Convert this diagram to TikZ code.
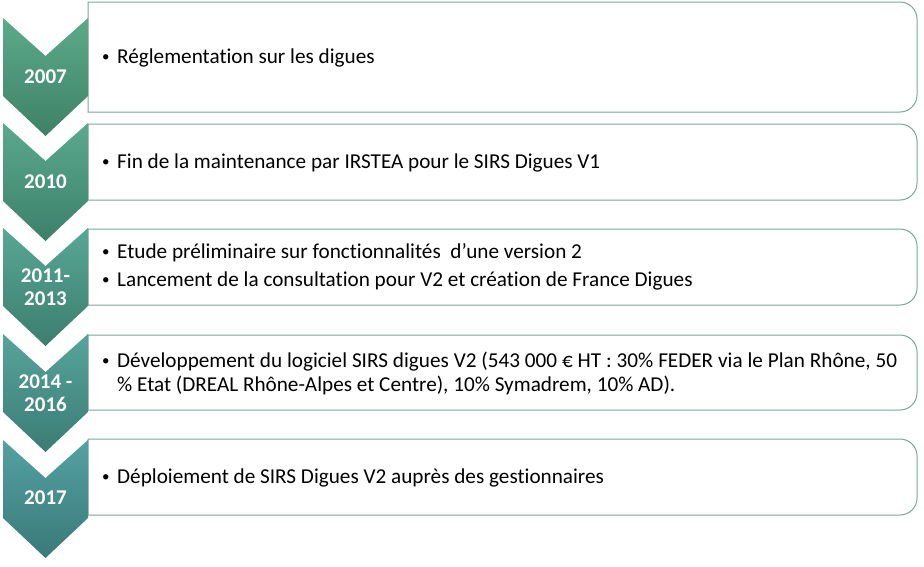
\documentclass[tikz,border=0pt]{standalone}
\usepackage{fontspec}
\setmainfont{Carlito}[Ligatures=NoCommon]
\usepackage{tikz}
\definecolor{bord}{HTML}{7DA59B}
\definecolor{hautA}{HTML}{5CAA8B}\definecolor{basA}{HTML}{3E8166}
\definecolor{hautB}{HTML}{5AA98F}\definecolor{basB}{HTML}{3D806A}
\definecolor{hautC}{HTML}{58A794}\definecolor{basC}{HTML}{3C7E6E}
\definecolor{hautD}{HTML}{56A49B}\definecolor{basD}{HTML}{3B7C74}
\definecolor{hautE}{HTML}{54A1A2}\definecolor{basE}{HTML}{3A7979}
\newcommand\puce{\makebox[15pt][l]{\raisebox{1.5pt}{\fontsize{15}{15}\selectfont\textbullet}}}

\begin{document}
\begin{tikzpicture}[x=1pt,y=-1pt,
  annee/.style={text=white,font=\fontsize{21}{23}\selectfont\bfseries,align=center},
  ligne/.style={anchor=base west,inner sep=0pt,font=\fontsize{21.2}{24}\selectfont}]
  \useasboundingbox (0,0) rectangle (924,566);
  % cadres, coins arrondis a droite
  \draw[bord,line width=1pt] (88,2) -- (900,2) arc[start angle=-90,end angle=0,radius=17] -- (917,95) arc[start angle=0,end angle=90,radius=17] -- (88,112) -- cycle;
  \draw[bord,line width=1pt] (88,124) -- (900,124) arc[start angle=-90,end angle=0,radius=17] -- (917,183) arc[start angle=0,end angle=90,radius=17] -- (88,200) -- cycle;
  \draw[bord,line width=1pt] (88,229) -- (900,229) arc[start angle=-90,end angle=0,radius=17] -- (917,288) arc[start angle=0,end angle=90,radius=17] -- (88,305) -- cycle;
  \draw[bord,line width=1pt] (88,335) -- (900,335) arc[start angle=-90,end angle=0,radius=17] -- (917,393) arc[start angle=0,end angle=90,radius=17] -- (88,410) -- cycle;
  \draw[bord,line width=1pt] (88,439) -- (900,439) arc[start angle=-90,end angle=0,radius=17] -- (917,498) arc[start angle=0,end angle=90,radius=17] -- (88,515) -- cycle;
  % chevrons
  \shade[top color=hautA,bottom color=basA] (3,18) -- (45.5,56) -- (88,18) -- (88,96) -- (45.5,136) -- (3,96) -- cycle;
  \shade[top color=hautB,bottom color=basB] (3,123) -- (45.5,161) -- (88,123) -- (88,201) -- (45.5,241) -- (3,201) -- cycle;
  \shade[top color=hautC,bottom color=basC] (3,228) -- (45.5,266) -- (88,228) -- (88,306) -- (45.5,346) -- (3,306) -- cycle;
  \shade[top color=hautD,bottom color=basD] (3,334) -- (45.5,372) -- (88,334) -- (88,412) -- (45.5,452) -- (3,412) -- cycle;
  \shade[top color=hautE,bottom color=basE] (3,440) -- (45.5,478) -- (88,440) -- (88,518) -- (45.5,558) -- (3,518) -- cycle;
  \node[annee] (a2007) at (45.5,77) {2007};
  \node[annee] (a2010) at (45.5,182) {2010};
  \node[annee] (a2011) at (45.5,287) {2011-\\2013};
  \node[annee] (a2014) at (45.5,393) {2014 -\\2016};
  \node[annee] (a2017) at (45.5,498) {2017};
  % textes
  \node[ligne] (t2007) at (102,63) {\puce Réglementation sur les digues};
  \node[ligne] (t2010) at (102,168) {\puce Fin de la maintenance par IRSTEA pour le SIRS Digues V1};
  \node[ligne] (t2011a) at (102,258) {\puce Etude préliminaire sur fonctionnalités\ \ d’une version 2};
  \node[ligne] (t2011b) at (102,286) {\puce Lancement de la consultation pour V2 et création de France Digues};
  \node[ligne] (t2014a) at (102,367) {\puce\makebox[780pt][s]{Développement du logiciel SIRS digues V2 (543~000 € HT : 30\% FEDER via le Plan Rhône, 50}};
  \node[ligne] (t2014b) at (117,391) {\% Etat (DREAL Rhône-Alpes et Centre), 10\% Symadrem, 10\% AD).};
  \node[ligne] (t2017) at (102,483) {\puce Déploiement de SIRS Digues V2 auprès des gestionnaires};
\end{tikzpicture}
\end{document}
